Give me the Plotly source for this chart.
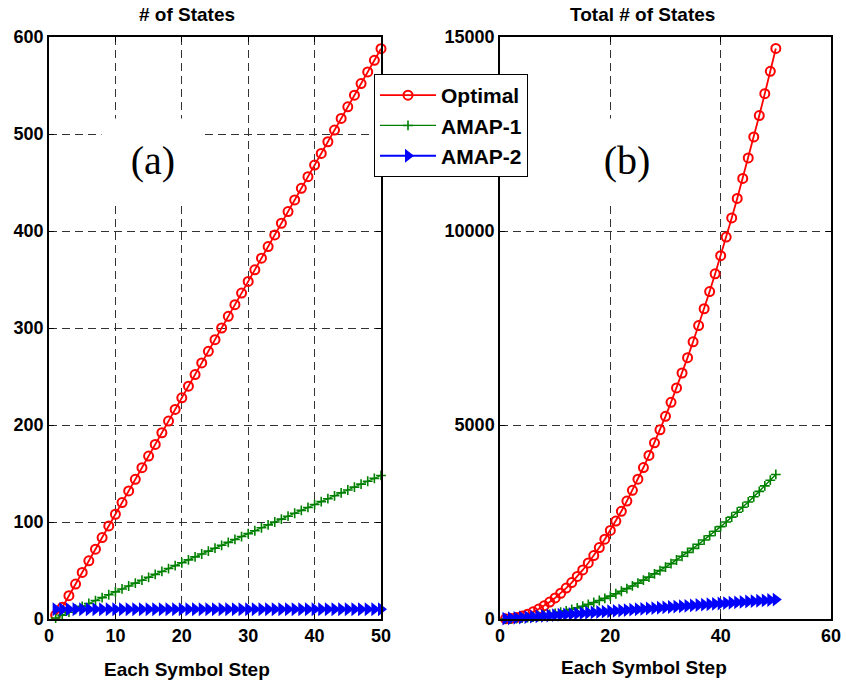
import plotly.graph_objects as go
from itertools import accumulate

steps = list(range(1, 51))

optimal = [4, 12, 24, 36, 48, 60, 72, 84, 96, 108, 120, 132, 144, 156, 168, 180, 192, 204,
           216, 228, 240, 252, 264, 276, 288, 300, 312, 324, 336, 348, 360, 372, 384, 396,
           408, 420, 432, 444, 456, 468, 480, 492, 504, 516, 528, 540, 552, 564, 576, 588]
amap1 = [1, 4, 7, 10, 13, 16, 19, 22, 25, 28, 31, 34, 37, 40, 43, 46, 49, 52, 55, 58,
         61, 64, 67, 70, 73, 76, 79, 82, 85, 88, 91, 94, 97, 100, 103, 106, 109, 112, 115,
         118, 121, 124, 127, 130, 133, 136, 139, 142, 145, 148]
amap2 = [10, 10, 10, 10, 10, 10, 10, 10, 10, 10, 10, 10, 10, 10, 10, 10, 10, 10, 10, 10,
         10, 10, 10, 10, 10, 10, 10, 10, 10, 10, 10, 10, 10, 10, 10, 10, 10, 10, 10, 10,
         10, 10, 10, 10, 10, 10, 10, 10, 10, 10]

total_optimal = list(accumulate(optimal))
total_amap1 = list(accumulate(amap1))
total_amap2 = list(accumulate(amap2))

names = ["Optimal", "AMAP-1", "AMAP-2"]
colors = ["#ff0000", "#008000", "#0000ff"]

left_ticks_x = [0, 10, 20, 30, 40, 50]
left_ticks_y = [0, 100, 200, 300, 400, 500, 600]
right_ticks_x = [0, 20, 40, 60]
right_ticks_y = [0, 5000, 10000, 15000]

W, H = 846, 684

def marker_for(i):
    if i == 0:
        return dict(symbol="circle-open", size=9, color=colors[0], line=dict(width=2, color=colors[0]))
    if i == 1:
        return dict(symbol="cross-thin", size=7, color=colors[1], line=dict(width=1.6, color=colors[1]))
    return dict(symbol="triangle-right", size=12, color=colors[2], line=dict(width=0, color=colors[2]))

fig = go.Figure()
left_series = [optimal, amap1, amap2]
right_series = [total_optimal, total_amap1, total_amap2]
for i in range(3):
    fig.add_trace(go.Scatter(x=steps, y=left_series[i], mode="lines+markers", name=names[i],
                             line=dict(color=colors[i], width=1.8 if i != 1 else 1.2),
                             marker=marker_for(i), xaxis="x", yaxis="y", showlegend=True,
                             cliponaxis=False))
for i in range(3):
    fig.add_trace(go.Scatter(x=steps, y=right_series[i], mode="lines+markers", name=names[i],
                             line=dict(color=colors[i], width=1.8 if i != 1 else 1.4),
                             marker=marker_for(i), xaxis="x2", yaxis="y2", showlegend=False,
                             cliponaxis=False))

tickfont = dict(family="Liberation Sans", size=18, color="black", weight="bold")
common = dict(showline=True, linecolor="black", linewidth=1.5, mirror="ticks", ticks="inside",
              ticklen=5, tickcolor="black", showgrid=True, gridcolor="#333333", gridwidth=1,
              griddash="8px,5px", zeroline=False, tickfont=tickfont, automargin=False,
              tickformat="d")

ydom = [1 - 619 / H, 1 - 37 / H]
fig.update_layout(
    width=W, height=H, margin=dict(l=0, r=0, t=0, b=0, autoexpand=False),
    paper_bgcolor="white", plot_bgcolor="white",
    xaxis=dict(domain=[49 / W, 381 / W], range=[0, 50], tickvals=left_ticks_x, anchor="y", **common),
    yaxis=dict(domain=ydom, range=[0, 600], tickvals=left_ticks_y, anchor="x", **common),
    xaxis2=dict(domain=[500 / W, 831 / W], range=[0, 60], tickvals=right_ticks_x, anchor="y2", **common),
    yaxis2=dict(domain=ydom, range=[0, 15000], tickvals=right_ticks_y, anchor="x2", **common),
    legend=dict(x=374 / W, y=1 - 74 / H, xanchor="left", yanchor="top", bgcolor="white",
                bordercolor="black", borderwidth=1,
                font=dict(family="Liberation Sans", size=21, color="black", weight="bold"),
                tracegroupgap=0, itemwidth=56),
    showlegend=True,
)

tfont = dict(family="Liberation Sans", size=19, color="black", weight="bold")
ann = [
    dict(text="# of States", x=187 / W, y=1 - 14.5 / H),
    dict(text="Total # of States", x=642 / W, y=1 - 14.5 / H),
    dict(text="Each Symbol Step", x=187 / W, y=1 - 669 / H),
    dict(text="Each Symbol Step", x=644 / W, y=1 - 667 / H),
]
for a in ann:
    fig.add_annotation(xref="paper", yref="paper", showarrow=False, xanchor="center",
                       yanchor="middle", font=tfont, **a)

for txt, cx in [("(a)", 153), ("(b)", 627)]:
    fig.add_annotation(text=txt, xref="paper", yref="paper", x=cx / W, y=1 - 160 / H,
                       xanchor="center", yanchor="middle", showarrow=False,
                       font=dict(family="Liberation Serif", size=40, color="black"),
                       bgcolor="white", width=100, height=80)

fig.write_html("out.html")
